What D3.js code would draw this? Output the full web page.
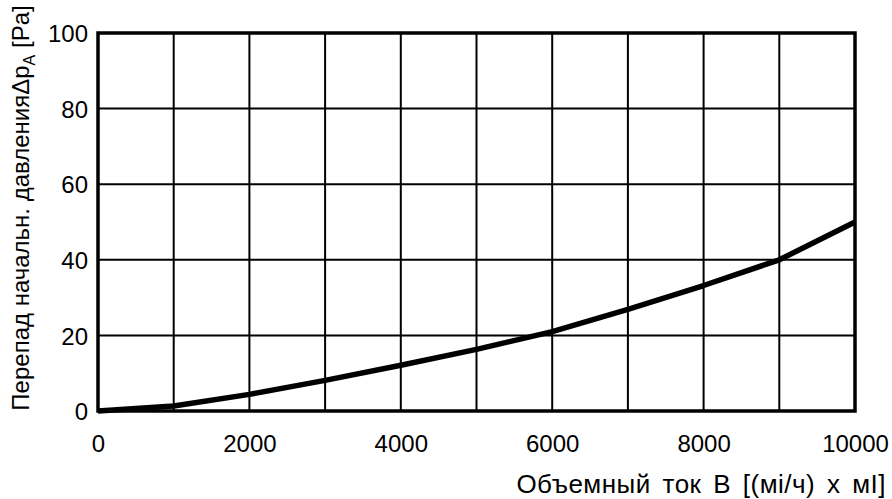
<!DOCTYPE html>
<html><head><meta charset="utf-8">
<script src="https://cdn.jsdelivr.net/npm/d3@7"></script>
<style>body{margin:0;background:#fff}text{font-family:"Liberation Sans",Arial,sans-serif;fill:#000}</style>
</head><body><svg id="c" width="892" height="499"></svg>
<script>
const flowValues = [0, 1000, 2000, 3000, 4000, 5000, 6000, 7000, 8000, 9000, 10000];
const pressureValues = [0, 1.3, 4.4, 8.1, 12.1, 16.3, 21, 26.9, 33.2, 40, 50];
const xTicks = [0, 2000, 4000, 6000, 8000, 10000];
const yTicks = [0, 20, 40, 60, 80, 100];
const xGrid = [1000,2000,3000,4000,5000,6000,7000,8000,9000];
const yGrid = [20,40,60,80];

const svg = d3.select("#c");
const x = d3.scaleLinear().domain([0,10000]).range([98,855]);
const y = d3.scaleLinear().domain([0,100]).range([411,33]);

const g = svg.append("g");
g.selectAll(".vg").data(xGrid).enter().append("line")
  .attr("x1",d=>x(d)).attr("x2",d=>x(d)).attr("y1",y(0)).attr("y2",y(100))
  .attr("stroke","#000").attr("stroke-width",2);
g.selectAll(".hg").data(yGrid).enter().append("line")
  .attr("y1",d=>y(d)).attr("y2",d=>y(d)).attr("x1",x(0)).attr("x2",x(10000))
  .attr("stroke","#000").attr("stroke-width",2);
g.append("rect").attr("x",x(0)).attr("y",y(100)).attr("width",x(10000)-x(0)).attr("height",y(0)-y(100))
  .attr("fill","none").attr("stroke","#000").attr("stroke-width",3.5);

const FS = 24;
const xAxis = d3.axisBottom(x).tickValues(xTicks).tickSize(0).tickPadding(0).tickFormat(d3.format("d"));
const ax = svg.append("g").attr("transform",`translate(0,${y(0)})`).call(xAxis);
ax.select(".domain").remove();
ax.selectAll("text").attr("font-size",FS).attr("dy",null).attr("y",41).style("font-family","Liberation Sans, Arial, sans-serif");

const yAxis = d3.axisLeft(y).tickValues(yTicks).tickSize(0).tickPadding(0).tickFormat(d3.format("d"));
const ay = svg.append("g").attr("transform",`translate(${x(0)-10},0)`).call(yAxis);
ay.select(".domain").remove();
ay.selectAll("text").attr("font-size",FS).attr("dy","0.36em").style("font-family","Liberation Sans, Arial, sans-serif");

const line = d3.line().x((d,i)=>x(flowValues[i])).y(d=>y(d));
svg.append("path").datum(pressureValues).attr("d",line)
  .attr("fill","none").attr("stroke","#000").attr("stroke-width",5.5).attr("stroke-linejoin","round");

svg.append("text").attr("x",886).attr("y",493).attr("text-anchor","end").attr("font-size",26)
  .attr("word-spacing",4).attr("letter-spacing",0.5)
  .text("Объемный ток В [(мі/ч) x мІ]");

const yt = svg.append("text").attr("transform","translate(29,208) rotate(-90)").attr("text-anchor","middle").attr("font-size",FS);
yt.append("tspan").text("Перепад начальн. давления\u0394p");
yt.append("tspan").attr("font-size",16).attr("dy",6).text("A");
yt.append("tspan").attr("dy",-6).text(" [Pa]");
</script></body></html>
